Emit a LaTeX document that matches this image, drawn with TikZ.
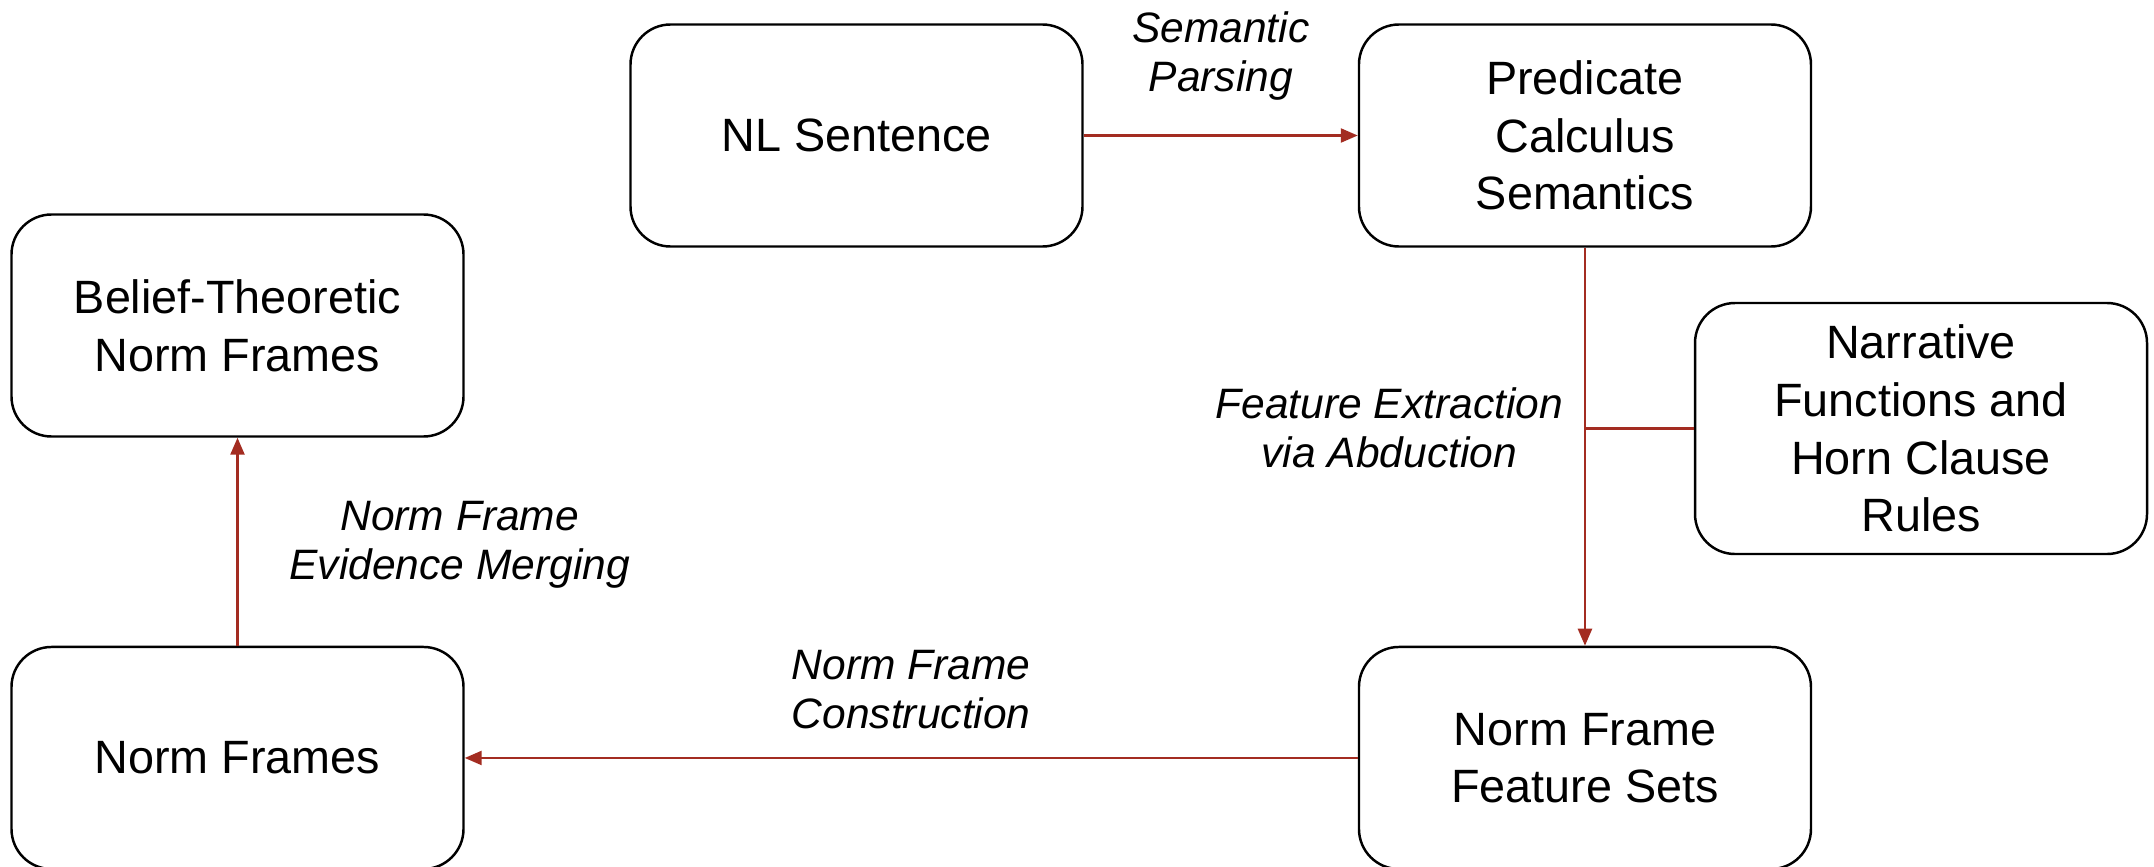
\documentclass[tikz,border=0pt]{standalone}
\usepackage{fontspec}
\setmainfont{Liberation Sans}
\usetikzlibrary{positioning, arrows.meta}

\definecolor{flowred}{RGB}{163,44,33}

\begin{document}
\begin{tikzpicture}[
    node distance=2cm,
    stagebox/.style={draw, rectangle, rounded corners=0.4cm, line width=0.7pt,
        minimum width=4.52cm, minimum height=2.22cm, align=center,
        font=\fontsize{13.3}{16.4}\selectfont},
    flow/.style={-{Triangle[length=0.17cm, width=0.14cm]}, flowred, line width=0.7pt},
    steplabel/.style={align=center, text=black, font=\fontsize{12.1}{14}\selectfont\itshape}
]

\useasboundingbox (0,0) rectangle (21.54,-8.66);

\node[stagebox] (sentence) at (8.565,-1.355) {NL Sentence};

\node[stagebox, right=2.74cm of sentence] (calculus)
    {Predicate\\ Calculus\\ Semantics};

\node[stagebox, below=3.98cm of calculus] (features)
    {Norm Frame\\ Feature Sets};

\node[stagebox, left=8.93cm of features] (frames) {Norm Frames};

\node[stagebox, above=2.08cm of frames] (belief)
    {Belief-Theoretic\\ Norm Frames};

\node[stagebox, minimum height=2.51cm] (narrative) at (19.21,-4.285)
    {Narrative\\ Functions and\\ Horn Clause\\ Rules};

\draw[flow] (sentence) -- node[steplabel, above=0.22cm] {Semantic\\ Parsing} (calculus);
\draw[flow] (calculus) -- node[steplabel, left=0.09cm, yshift=0.19cm] {Feature Extraction\\ via Abduction} (features);
\draw[flowred, line width=0.7pt] (narrative.west) -- (narrative.west -| calculus.south);
\draw[flow] (features) -- node[steplabel, above=0.16cm] {Norm Frame\\ Construction} (frames);
\draw[flow] (frames) -- node[steplabel, right=0.39cm, yshift=-0.03cm] {Norm Frame\\ Evidence Merging} (belief);

\end{tikzpicture}
\end{document}
